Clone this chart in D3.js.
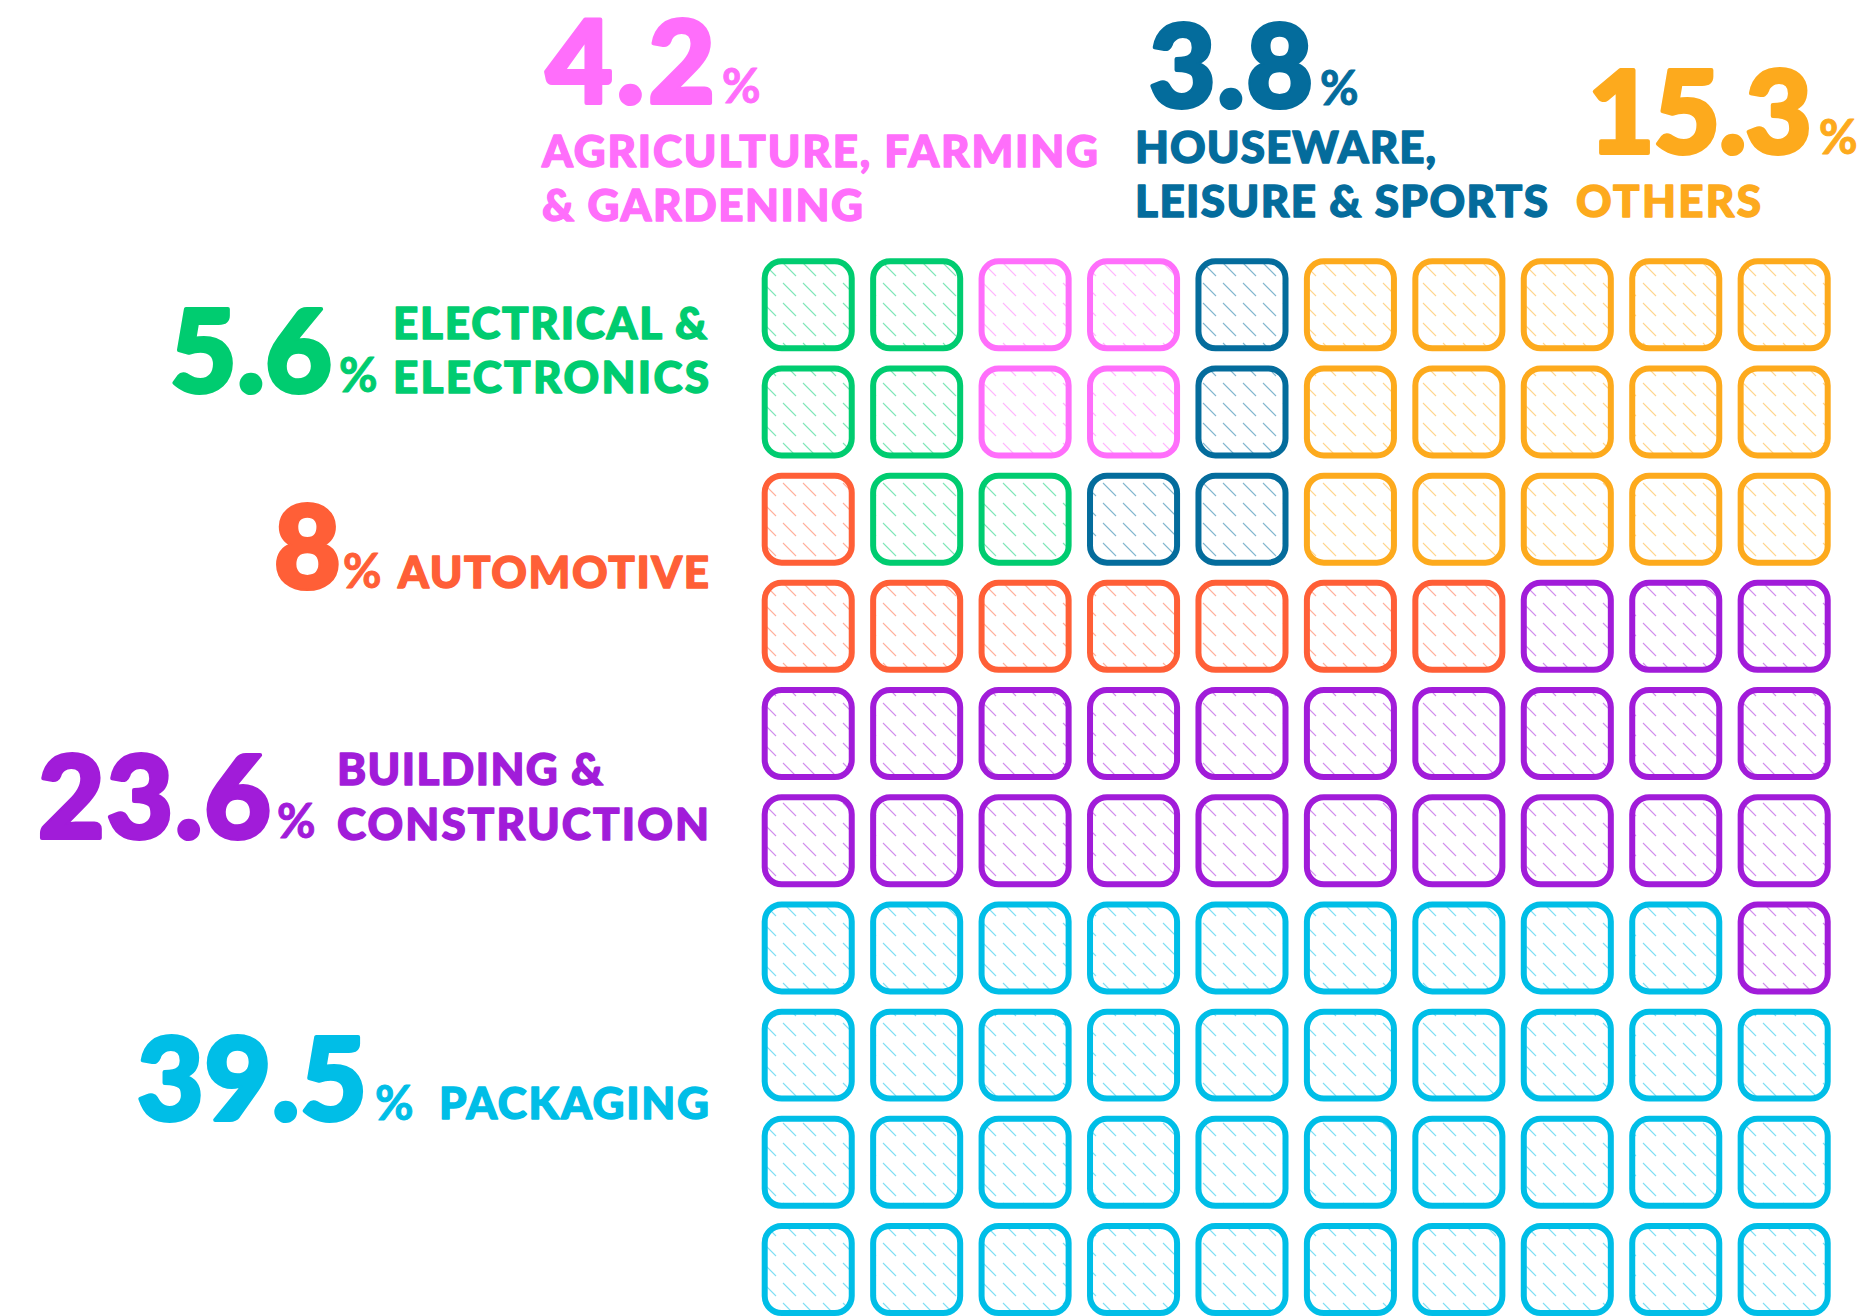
<!DOCTYPE html>
<html>
<head>
<meta charset="utf-8">
<script src="https://cdn.jsdelivr.net/npm/d3@7"></script>
<style>
  body { margin: 0; background: #fff; }
  svg { display: block; }
  text { font-family: Lato, "Open Sans", sans-serif; paint-order: stroke; stroke-linejoin: round; }
</style>
</head>
<body>
<div id="my_dataviz"></div>
<script>

// shares of demand, by sector (%)
var categories = ["PACKAGING", "BUILDING & CONSTRUCTION", "AUTOMOTIVE", "ELECTRICAL & ELECTRONICS",
                  "AGRICULTURE, FARMING & GARDENING", "HOUSEWARE, LEISURE & SPORTS", "OTHERS"];
var shares = ["39.5", "23.6", "8", "5.6", "4.2", "3.8", "15.3"];
var labelLines = [["PACKAGING"], ["BUILDING &", "CONSTRUCTION"], ["AUTOMOTIVE"], ["ELECTRICAL &", "ELECTRONICS"],
                  ["AGRICULTURE, FARMING", "& GARDENING"], ["HOUSEWARE,", "LEISURE & SPORTS"], ["OTHERS"]];
// one letter per square, row by row, as in the picture
var codes = ["P", "B", "A", "E", "G", "H", "O"];
var cellRows = [
    "EEGGHOOOOO",
    "EEGGHOOOOO",
    "AEEHHOOOOO",
    "AAAAAAABBB",
    "BBBBBBBBBB",
    "BBBBBBBBBB",
    "PPPPPPPPPB",
    "PPPPPPPPPP",
    "PPPPPPPPPP",
    "PPPPPPPPPP"
];

var palette = ["#00bee7", "#a11cd9", "#ff5f37", "#00cc70", "#ff6efb", "#046c9c", "#fdaa1d"];

// where each annotation sits (number left / baseline, % left, label left / baselines / widths)
var labelLayout = [
    { nx: 137, ny: 1120, nw: 230, px: 375, py: 1120, lx: 439, ly: [1119], lw: [270] },
    { nx: 38, ny: 838, nw: 233, px: 277, py: 838, lx: 337, ly: [785, 840], lw: [266, 372] },
    { nx: 274, ny: 588, nw: 62, px: 343, py: 588, lx: 398, ly: [588], lw: [311] },
    { nx: 170, ny: 392, nw: 162, px: 339, py: 392, lx: 393, ly: [339, 393], lw: [314, 316] },
    { nx: 546, ny: 103, nw: 169, px: 722, py: 103, lx: 542, ly: [167, 221], lw: [556, 321] },
    { nx: 1149, ny: 107, nw: 164, px: 1320, py: 105, lx: 1135, ly: [163, 217], lw: [301, 413] },
    { nx: 1588, ny: 153, nw: 224, px: 1819, py: 154, lx: 1576, ly: [217], lw: [185] }
];

var W = 1865, H = 1316;

var svg = d3.select("#my_dataviz")
    .append("svg")
    .attr("width", W)
    .attr("height", H);

svg.append("rect").attr("width", W).attr("height", H).attr("fill", "#fff");

var color = d3.scaleOrdinal().domain(codes).range(palette);

var cells = [];
cellRows.forEach(function (row, r) {
    row.split("").forEach(function (c, i) {
        cells.push({ row: r, col: i, code: c });
    });
});

var x = d3.scaleBand().domain(d3.range(10)).range([761.7, 1830.7]).paddingInner(0.142);
var y = d3.scaleBand().domain(d3.range(10)).range([258.3, 1316]).paddingInner(0.1325);

// hatch patterns, one per colour
var defs = svg.append("defs");
var pat = defs.selectAll("pattern")
    .data(codes)
    .enter().append("pattern")
    .attr("id", function (d) { return "hatch-" + d; })
    .attr("patternUnits", "userSpaceOnUse")
    .attr("width", 20)
    .attr("height", 20);
pat.append("line")
    .attr("x1", 3).attr("y1", 3)
    .attr("x2", 16).attr("y2", 16)
    .attr("stroke", function (d) { return color(d); })
    .attr("stroke-opacity", 0.5)
    .attr("stroke-width", 1.1);

var sw = 6;
svg.append("g")
    .selectAll("rect")
    .data(cells)
    .enter().append("rect")
    .attr("x", function (d) { return x(d.col) + sw / 2; })
    .attr("y", function (d) { return y(d.row) + sw / 2; })
    .attr("width", x.bandwidth() - sw)
    .attr("height", y.bandwidth() - sw)
    .attr("rx", 17)
    .attr("fill", function (d) { return "url(#hatch-" + d.code + ")"; })
    .attr("stroke", function (d) { return color(d.code); })
    .attr("stroke-width", sw);

// annotations
var notes = svg.append("g")
    .selectAll("g")
    .data(categories.map(function (c, i) {
        return { name: c, share: shares[i], lines: labelLines[i], code: codes[i], pos: labelLayout[i] };
    }))
    .enter().append("g")
    .attr("fill", function (d) { return color(d.code); })
    .attr("stroke", function (d) { return color(d.code); });

notes.append("text")
    .attr("x", function (d) { return d.pos.nx; })
    .attr("y", function (d) { return d.pos.ny; })
    .attr("font-size", 115)
    .attr("font-weight", 900)
    .attr("stroke-width", 4)
    .attr("textLength", function (d) { return d.pos.nw; })
    .attr("lengthAdjust", "spacing")
    .text(function (d) { return d.share; });

notes.append("text")
    .attr("x", function (d) { return d.pos.px; })
    .attr("y", function (d) { return d.pos.py; })
    .attr("font-size", 47)
    .attr("font-weight", 700)
    .attr("stroke-width", 1)
    .text("%");

notes.each(function (d) {
    d3.select(this).selectAll(".lbl")
        .data(d.lines)
        .enter().append("text")
        .attr("class", "lbl")
        .attr("x", d.pos.lx)
        .attr("y", function (t, i) { return d.pos.ly[i]; })
        .attr("font-size", 44)
        .attr("font-weight", 900)
        .attr("stroke-width", 1.4)
        .attr("textLength", function (t, i) { return d.pos.lw[i]; })
        .attr("lengthAdjust", "spacing")
        .text(function (t) { return t; });
});

</script>
</body>
</html>
